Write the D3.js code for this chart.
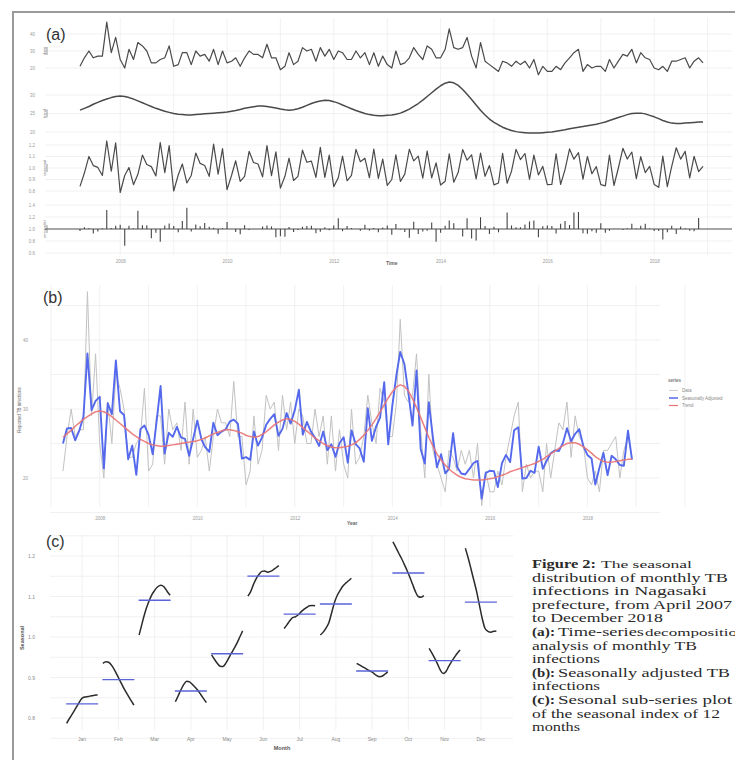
<!DOCTYPE html>
<html>
<head>
<meta charset="utf-8">
<script src="https://cdn.jsdelivr.net/npm/d3@7"></script>
<style>
  body { margin: 0; background: #fff; }
  svg { display: block; }
</style>
</head>
<body>
<div id="container"></div>
<script>
/* DATA: monthly TB infections, Nagasaki, April 2007 - December 2018 */
const startYear = 2007, startMonth = 3; // April
const monthNames = ["Jan","Feb","Mar","Apr","May","Jun","Jul","Aug","Sep","Oct","Nov","Dec"];
const yearTicks = [2008, 2010, 2012, 2014, 2016, 2018];

const observed = [
  21, 26, 30, 26, 27, 27, 47, 29, 38,                 // 2007 Apr-Dec
  25, 20, 31, 25, 35, 33, 30, 23, 23, 25, 26, 33,     // 2008
  21, 22, 29, 29, 22, 30, 27, 28, 24, 31, 22, 30,     // 2009
  23, 24, 26, 21, 26, 30, 28, 28, 26, 34, 26, 26,     // 2010
  19, 21, 29, 22, 24, 32, 30, 31, 24, 32, 27, 31,     // 2011
  25, 30, 29, 25, 25, 30, 26, 29, 22, 29, 21, 27,     // 2012
  22, 20, 30, 22, 23, 26, 32, 28, 25, 33, 31, 26,     // 2013
  26, 31, 43, 32, 31, 32, 38, 27, 20, 35, 24, 22,     // 2014
  20, 18, 24, 23, 21, 24, 22, 24, 20, 25, 16, 21,     // 2015
  18, 18, 21, 19, 23, 26, 29, 31, 18, 22, 20, 21,     // 2016
  21, 18, 25, 20, 24, 28, 27, 31, 23, 29, 26, 25,     // 2017
  20, 19, 21, 18, 24, 24, 25, 26, 20, 24, 26, 23      // 2018
];

const trend = [
  25.9, 26.4, 26.9, 27.5, 28.0, 28.5, 28.9, 29.3, 29.6,
  29.7, 29.6, 29.3, 28.9, 28.4, 27.9, 27.4, 26.9, 26.4, 26.0, 25.6, 25.3,
  25.0, 24.8, 24.7, 24.6, 24.6, 24.7, 24.8, 24.9, 25.0, 25.1, 25.2, 25.3,
  25.4, 25.6, 25.8, 26.1, 26.4, 26.6, 26.8, 27.0, 27.0, 26.9, 26.7, 26.5,
  26.2, 26.0, 25.9, 26.0, 26.3, 26.7, 27.2, 27.7, 28.1, 28.4, 28.6, 28.5,
  28.2, 27.8, 27.3, 26.8, 26.3, 25.8, 25.4, 25.0, 24.7, 24.5, 24.4, 24.4,
  24.5, 24.6, 24.8, 25.1, 25.6, 26.2, 26.9, 27.7, 28.6, 29.6, 30.6, 31.6,
  32.5, 33.2, 33.5, 33.3, 32.6, 31.5, 30.2, 28.8, 27.3, 25.9, 24.6, 23.5,
  22.6, 21.9, 21.3, 20.8, 20.4, 20.1, 19.9, 19.8, 19.7, 19.7, 19.7, 19.8,
  19.9, 20.0, 20.2, 20.4, 20.6, 20.9, 21.1, 21.3, 21.5, 21.7, 21.9, 22.1,
  22.4, 22.7, 23.1, 23.5, 23.9, 24.3, 24.7, 25.0, 25.1, 25.1, 24.9, 24.5,
  24.1, 23.6, 23.1, 22.7, 22.4, 22.3, 22.3, 22.4, 22.5, 22.6, 22.7, 22.7
];

// seasonal index per calendar month, one value per year
// Jan-Mar: 2008-2018, Apr-Dec: 2007-2018
const seasJan = [0.787, 0.800, 0.812, 0.825, 0.838, 0.849, 0.852, 0.853, 0.855, 0.856, 0.857];
const seasFeb = [0.935, 0.939, 0.937, 0.928, 0.915, 0.900, 0.885, 0.870, 0.857, 0.844, 0.832];
const seasMar = [1.005, 1.035, 1.063, 1.085, 1.103, 1.115, 1.124, 1.128, 1.124, 1.113, 1.103];
const seasApr = [0.840, 0.855, 0.870, 0.883, 0.891, 0.889, 0.883, 0.876, 0.868, 0.858, 0.848, 0.838];
const seasMay = [0.956, 0.945, 0.935, 0.928, 0.927, 0.935, 0.947, 0.960, 0.972, 0.985, 1.000, 1.015];
const seasJun = [1.101, 1.112, 1.130, 1.145, 1.155, 1.162, 1.163, 1.160, 1.162, 1.166, 1.171, 1.176];
const seasJul = [1.021, 1.030, 1.040, 1.048, 1.050, 1.055, 1.062, 1.068, 1.073, 1.077, 1.078, 1.077];
const seasAug = [1.005, 1.012, 1.022, 1.035, 1.060, 1.085, 1.103, 1.115, 1.126, 1.133, 1.139, 1.145];
const seasSep = [0.935, 0.931, 0.927, 0.923, 0.919, 0.915, 0.911, 0.905, 0.902, 0.903, 0.908, 0.914];
const seasOct = [1.235, 1.222, 1.208, 1.195, 1.180, 1.165, 1.148, 1.130, 1.112, 1.100, 1.098, 1.102];
const seasNov = [0.972, 0.960, 0.947, 0.933, 0.918, 0.910, 0.915, 0.928, 0.940, 0.950, 0.960, 0.968];
const seasDec = [1.219, 1.195, 1.168, 1.140, 1.112, 1.078, 1.045, 1.021, 1.014, 1.012, 1.014, 1.015];
const seasonalTable = [seasJan, seasFeb, seasMar, seasApr, seasMay, seasJun,
                       seasJul, seasAug, seasSep, seasOct, seasNov, seasDec];

/* build monthly records (multiplicative decomposition) */
const series = observed.map((v, i) => {
  const m = (startMonth + i) % 12;
  const year = startYear + Math.floor((startMonth + i) / 12);
  const s = seasonalTable[m][year - (m < startMonth ? startYear + 1 : startYear)];
  return {
    date: new Date(year, m, 1),
    observed: v,
    trend: trend[i],
    seasonal: s,
    adjusted: v / s,
    remainder: v / (trend[i] * s)
  };
});

/* SVG */
const svg = d3.select("#container").append("svg")
  .attr("width", 735).attr("height", 760)
  .style("font-family", "'Liberation Sans', Arial, sans-serif");

// figure frame
svg.append("rect").attr("x", 13).attr("y", 12).attr("width", 740).attr("height", 760)
  .attr("fill", "none").attr("stroke", "#9a9a9a").attr("stroke-width", 2);

const gridColor = "#ededed";

function panelLabel(txt, x, y) {
  svg.append("text").attr("x", x).attr("y", y).text(txt)
    .attr("font-size", 16).attr("fill", "#333");
}

function styleAxis(g, size, color) {
  g.select(".domain").remove();
  g.selectAll(".tick line").remove();
  g.selectAll("text").attr("font-size", size).attr("fill", color).attr("font-family", null);
}

/* ===== PANEL (a): decomposition ===== */
const xA = d3.scaleTime()
  .domain([series[0].date, series[series.length - 1].date])
  .range([80, 703]);

const rows = [
  { name: "data", key: "observed", y: d3.scaleLinear().domain([20, 40]).range([68, 34]), ticks: [20, 30, 40], fmt: d3.format("d") },
  { name: "trend", key: "trend", y: d3.scaleLinear().domain([20, 30]).range([132, 95]), ticks: [20, 25, 30], fmt: d3.format("d") },
  { name: "seasonal", key: "seasonal", y: d3.scaleLinear().domain([0.8, 1.2]).range([191, 145]), ticks: [0.8, 0.9, 1.0, 1.1, 1.2], fmt: d3.format(".1f") },
  { name: "remainder", key: "remainder", y: d3.scaleLinear().domain([0.6, 1.4]).range([253, 205]), ticks: [0.6, 0.8, 1.0, 1.2, 1.4], fmt: d3.format(".1f") }
];

const gA = svg.append("g");

// vertical grid (every year)
gA.selectAll("line.vgrid")
  .data(d3.timeYear.range(new Date(2008, 0, 1), new Date(2019, 0, 2)))
  .join("line")
  .attr("x1", d => xA(d)).attr("x2", d => xA(d))
  .attr("y1", 18).attr("y2", 255)
  .attr("stroke", gridColor).attr("stroke-width", 0.8);

rows.forEach(r => {
  gA.selectAll(null).data(r.ticks).join("line")
    .attr("x1", 45).attr("x2", 732)
    .attr("y1", d => r.y(d)).attr("y2", d => r.y(d))
    .attr("stroke", gridColor).attr("stroke-width", 0.8);

  const ax = gA.append("g").attr("transform", "translate(38,0)")
    .call(d3.axisLeft(r.y).tickValues(r.ticks).tickFormat(r.fmt).tickSize(0));
  styleAxis(ax, 4.5, "#9a9a9a");

  // strip label
  const mid = (r.y.range()[0] + r.y.range()[1]) / 2;
  gA.append("text").text(r.name)
    .attr("transform", `translate(46,${mid}) rotate(-90)`)
    .attr("text-anchor", "middle").attr("font-size", 4)
    .attr("fill", "#777");
  gA.append("line").attr("x1", 47).attr("x2", 47)
    .attr("y1", mid - 4).attr("y2", mid + 4)
    .attr("stroke", "#aaa").attr("stroke-width", 1.2);
});

// lines for data, trend, seasonal
rows.slice(0, 3).forEach(r => {
  gA.append("path").datum(series)
    .attr("fill", "none").attr("stroke", "#4a4a4a").attr("stroke-width", r.key === "trend" ? 1.5 : 1.2)
    .attr("stroke-linejoin", "round")
    .attr("d", d3.line().x(d => xA(d.date)).y(d => r.y(d[r.key])));
});

// remainder spikes
const rem = rows[3];
gA.append("line").attr("x1", 45).attr("x2", 732)
  .attr("y1", rem.y(1)).attr("y2", rem.y(1))
  .attr("stroke", "#555").attr("stroke-width", 1);
gA.selectAll("line.rem").data(series).join("line")
  .attr("class", "rem")
  .attr("x1", d => xA(d.date)).attr("x2", d => xA(d.date))
  .attr("y1", rem.y(1)).attr("y2", d => rem.y(d.remainder))
  .attr("stroke", "#444").attr("stroke-width", 1.1);

const axA = gA.append("g").attr("transform", "translate(0,257)")
  .call(d3.axisBottom(xA).tickValues(yearTicks.map(y => new Date(y, 0, 1)))
    .tickFormat(d3.timeFormat("%Y")).tickSize(0));
styleAxis(axA, 4.5, "#9a9a9a");
gA.append("text").attr("x", 386).attr("y", 265).text("Time")
  .attr("font-size", 5).attr("font-weight", "bold").attr("fill", "#666");

panelLabel("(a)", 46, 40);

/* ===== PANEL (b): seasonally adjusted ===== */
const xB = d3.scaleTime()
  .domain([series[0].date, series[series.length - 1].date])
  .range([63, 632]);
const yB = d3.scaleLinear().domain([20, 40]).range([478, 340]);
const gB = svg.append("g");

gB.selectAll(null).data(d3.timeYear.range(new Date(2007, 0, 1), new Date(2020, 0, 2)))
  .join("line")
  .attr("x1", d => xB(d)).attr("x2", d => xB(d))
  .attr("y1", 285).attr("y2", 507)
  .attr("stroke", gridColor).attr("stroke-width", 0.8);
gB.selectAll(null).data(d3.range(15, 50, 5)).join("line")
  .attr("x1", 50).attr("x2", 660)
  .attr("y1", d => yB(d)).attr("y2", d => yB(d))
  .attr("stroke", gridColor).attr("stroke-width", 0.8);

const bSeries = [
  { name: "Data", key: "observed", color: "#c2c2c2", width: 1 },
  { name: "Seasonally Adjusted", key: "adjusted", color: "#5469ec", width: 1.9 },
  { name: "Trend", key: "trend", color: "#e97272", width: 1.5 }
];
bSeries.forEach(s => {
  gB.append("path").datum(series)
    .attr("fill", "none").attr("stroke", s.color).attr("stroke-width", s.width)
    .attr("stroke-linejoin", "round")
    .attr("opacity", s.key === "trend" ? 0.9 : 1)
    .attr("d", d3.line().x(d => xB(d.date)).y(d => yB(d[s.key])));
});

const ayB = gB.append("g").attr("transform", "translate(31,0)")
  .call(d3.axisLeft(yB).tickValues([20, 30, 40]).tickSize(0));
styleAxis(ayB, 4.5, "#9a9a9a");
const axB = gB.append("g").attr("transform", "translate(0,514)")
  .call(d3.axisBottom(xB).tickValues(yearTicks.map(y => new Date(y, 0, 1)))
    .tickFormat(d3.timeFormat("%Y")).tickSize(0));
styleAxis(axB, 4.5, "#9a9a9a");
gB.append("text").attr("x", 347).attr("y", 525).text("Year")
  .attr("font-size", 5).attr("font-weight", "bold").attr("fill", "#666");
gB.append("text").text("Reported TB infections")
  .attr("transform", "translate(21,410) rotate(-90)")
  .attr("text-anchor", "middle").attr("font-size", 4.5).attr("fill", "#666");

// legend
const lg = gB.append("g").attr("transform", "translate(668,382)");
lg.append("text").text("series").attr("font-size", 4.5).attr("font-weight", "bold").attr("fill", "#777");
bSeries.forEach((s, i) => {
  const yy = 10 + i * 7.5;
  lg.append("line").attr("x1", 1).attr("x2", 10).attr("y1", yy - 1.5).attr("y2", yy - 1.5)
    .attr("stroke", s.color).attr("stroke-width", s.width * 0.8);
  lg.append("text").attr("x", 14).attr("y", yy).text(s.name)
    .attr("font-size", 4.5).attr("fill", "#888");
});

panelLabel("(b)", 43, 303);

/* ===== PANEL (c): seasonal sub-series ===== */
const xC = d3.scaleBand().domain(monthNames).range([64, 499]);
const yC = d3.scaleLinear().domain([0.8, 1.2]).range([718, 556]);
const gC = svg.append("g");

gC.selectAll(null).data(d3.range(0.75, 1.26, 0.05)).join("line")
  .attr("x1", 50).attr("x2", 513)
  .attr("y1", d => yC(d)).attr("y2", d => yC(d))
  .attr("stroke", gridColor).attr("stroke-width", 0.8);
gC.selectAll(null).data(monthNames).join("line")
  .attr("x1", d => xC(d) + xC.bandwidth() / 2).attr("x2", d => xC(d) + xC.bandwidth() / 2)
  .attr("y1", 535).attr("y2", 730)
  .attr("stroke", gridColor).attr("stroke-width", 0.8);

monthNames.forEach((m, mi) => {
  const vals = seasonalTable[mi];
  const c = xC(m) + xC.bandwidth() / 2;
  const xs = d3.scaleLinear().domain([0, vals.length - 1]).range([c - 15.5, c + 15.5]);
  gC.append("path").datum(vals)
    .attr("fill", "none").attr("stroke", "#2b2b2b").attr("stroke-width", 1.5)
    .attr("d", d3.line().x((d, k) => xs(k)).y(d => yC(d)).curve(d3.curveMonotoneX));
  const mean = d3.mean(vals);
  gC.append("line")
    .attr("x1", c - 16).attr("x2", c + 16)
    .attr("y1", yC(mean)).attr("y2", yC(mean))
    .attr("stroke", "#5a63d8").attr("stroke-width", 1.4);
});

const ayC = gC.append("g").attr("transform", "translate(38,0)")
  .call(d3.axisLeft(yC).tickValues([0.8, 0.9, 1.0, 1.1, 1.2]).tickFormat(d3.format(".1f")).tickSize(0));
styleAxis(ayC, 5, "#8a8a8a");
const axC = gC.append("g").attr("transform", "translate(0,734)")
  .call(d3.axisBottom(xC).tickSize(0));
styleAxis(axC, 5, "#8a8a8a");
gC.append("text").attr("x", 282).attr("y", 750).text("Month")
  .attr("text-anchor", "middle").attr("font-size", 5.5).attr("font-weight", "bold").attr("fill", "#555");
gC.append("text").text("Seasonal")
  .attr("transform", "translate(24,638) rotate(-90)")
  .attr("text-anchor", "middle").attr("font-size", 5.5).attr("font-weight", "bold").attr("fill", "#555");

panelLabel("(c)", 46, 547);

/* ===== CAPTION ===== */
const cap = svg.append("g").attr("font-family", "'Liberation Serif', 'Times New Roman', serif")
  .attr("fill", "#2a2a2a");
function capRun(txt, x, y, w, opts = {}) {
  cap.append("text").attr("x", x).attr("y", y).text(txt)
    .attr("font-size", opts.size || 13)
    .attr("font-weight", opts.bold ? "bold" : null)
    .attr("textLength", w).attr("lengthAdjust", "spacingAndGlyphs");
}
const cy = i => 568 + i * 13.6;
capRun("Figure 2:", 532, cy(0), 64, { bold: true, size: 13 });
capRun("The seasonal", 601, cy(0), 91, { size: 10 });
capRun("distribution of monthly TB", 532, cy(1), 196);
capRun("infections in Nagasaki", 532, cy(2), 175);
capRun("prefecture, from April 2007", 532, cy(3), 200);
capRun("to December 2018", 532, cy(4), 131);
capRun("(a):", 532, cy(5), 23, { bold: true });
capRun("Time-series", 558, cy(5), 86);
capRun("decompositio", 645, cy(5), 92, { size: 10 });
capRun("analysis of monthly TB", 532, cy(6), 165);
capRun("infections", 532, cy(7), 68);
capRun("(b):", 532, cy(8), 23, { bold: true });
capRun("Seasonally adjusted TB", 558, cy(8), 172);
capRun("infections", 532, cy(9), 68);
capRun("(c):", 532, cy(10), 23, { bold: true });
capRun("Sesonal sub-series plot", 558, cy(10), 174);
capRun("of the seasonal index of 12", 532, cy(11), 188);
capRun("months", 532, cy(12), 48);
</script>
</body>
</html>
